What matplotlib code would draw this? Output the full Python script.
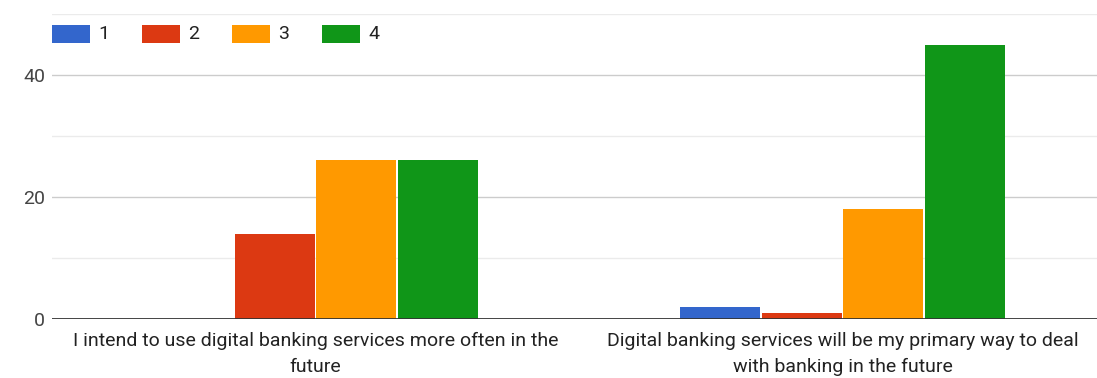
import matplotlib
matplotlib.use("Agg")
import matplotlib.pyplot as plt
from matplotlib.patches import Rectangle
import numpy as np

categories = ["I intend to use digital banking services more often in the\nfuture",
              "Digital banking services will be my primary way to deal\nwith banking in the future"]
series_names = ["1", "2", "3", "4"]
s1 = [0, 2]
s2 = [14, 1]
s3 = [26, 18]
s4 = [26, 45]
colors = ["#3366cc", "#dc3912", "#ff9900", "#109618"]
yticks = [0, 20, 40]

plt.rcParams['font.family'] = ['Roboto', 'DejaVu Sans']
W, H = 1097, 378
fig = plt.figure(figsize=(W/100, H/100), dpi=100)
ax_left, ax_right, ax_top, ax_bottom = 52, 1106, 14, 319
ax = fig.add_axes([ax_left/W, 1 - ax_bottom/H, (ax_right-ax_left)/W, (ax_bottom-ax_top)/H])

x = np.arange(len(categories)) + 0.5
bw = 0.1515
step = 0.1548
for i, (vals, c) in enumerate(zip([s1, s2, s3, s4], colors)):
    ax.bar(x + (i - 1.5)*step, vals, width=bw, color=c, zorder=3, linewidth=0)

ax.set_xlim(0, 2)
ax.set_ylim(0, 50)
for v in [10, 30, 50]:
    ax.axhline(v, color="#ebebeb", lw=1, zorder=1)
for v in [20, 40]:
    ax.axhline(v, color="#cccccc", lw=1, zorder=1)
ax.axhline(0, color="#333333", lw=2, zorder=4)
for s in ax.spines.values():
    s.set_visible(False)
ax.set_yticks(yticks)
ax.set_yticklabels([str(t) for t in yticks], color="#444444", fontsize=14)
ax.tick_params(axis='y', length=0, pad=5)
ax.set_xticks(x)
ax.set_xticklabels([])
for xi, lab in zip(x, categories):
    lines = lab.split("\n")
    for j, ln in enumerate(lines):
        ax.annotate(ln, xy=(xi, 0), xycoords=("data", "axes fraction"),
                    xytext=(0, -22 - j*26), textcoords="offset pixels",
                    ha="center", va="center", fontsize=14, color="#222222",
                    annotation_clip=False)
ax.tick_params(axis='x', length=0)

# legend
lx0, ly = 52, 34
for i, (name, c) in enumerate(zip(series_names, colors)):
    px = lx0 + i*90
    fig.patches.append(Rectangle((px/W, 1-(ly+9)/H), 38/W, 18/H, transform=fig.transFigure,
                                 facecolor=c, edgecolor="none"))
    fig.text((px+46)/W, 1-ly/H, name, ha="left", va="center", fontsize=14, color="#222222")

fig.savefig("out.png", dpi=100)
